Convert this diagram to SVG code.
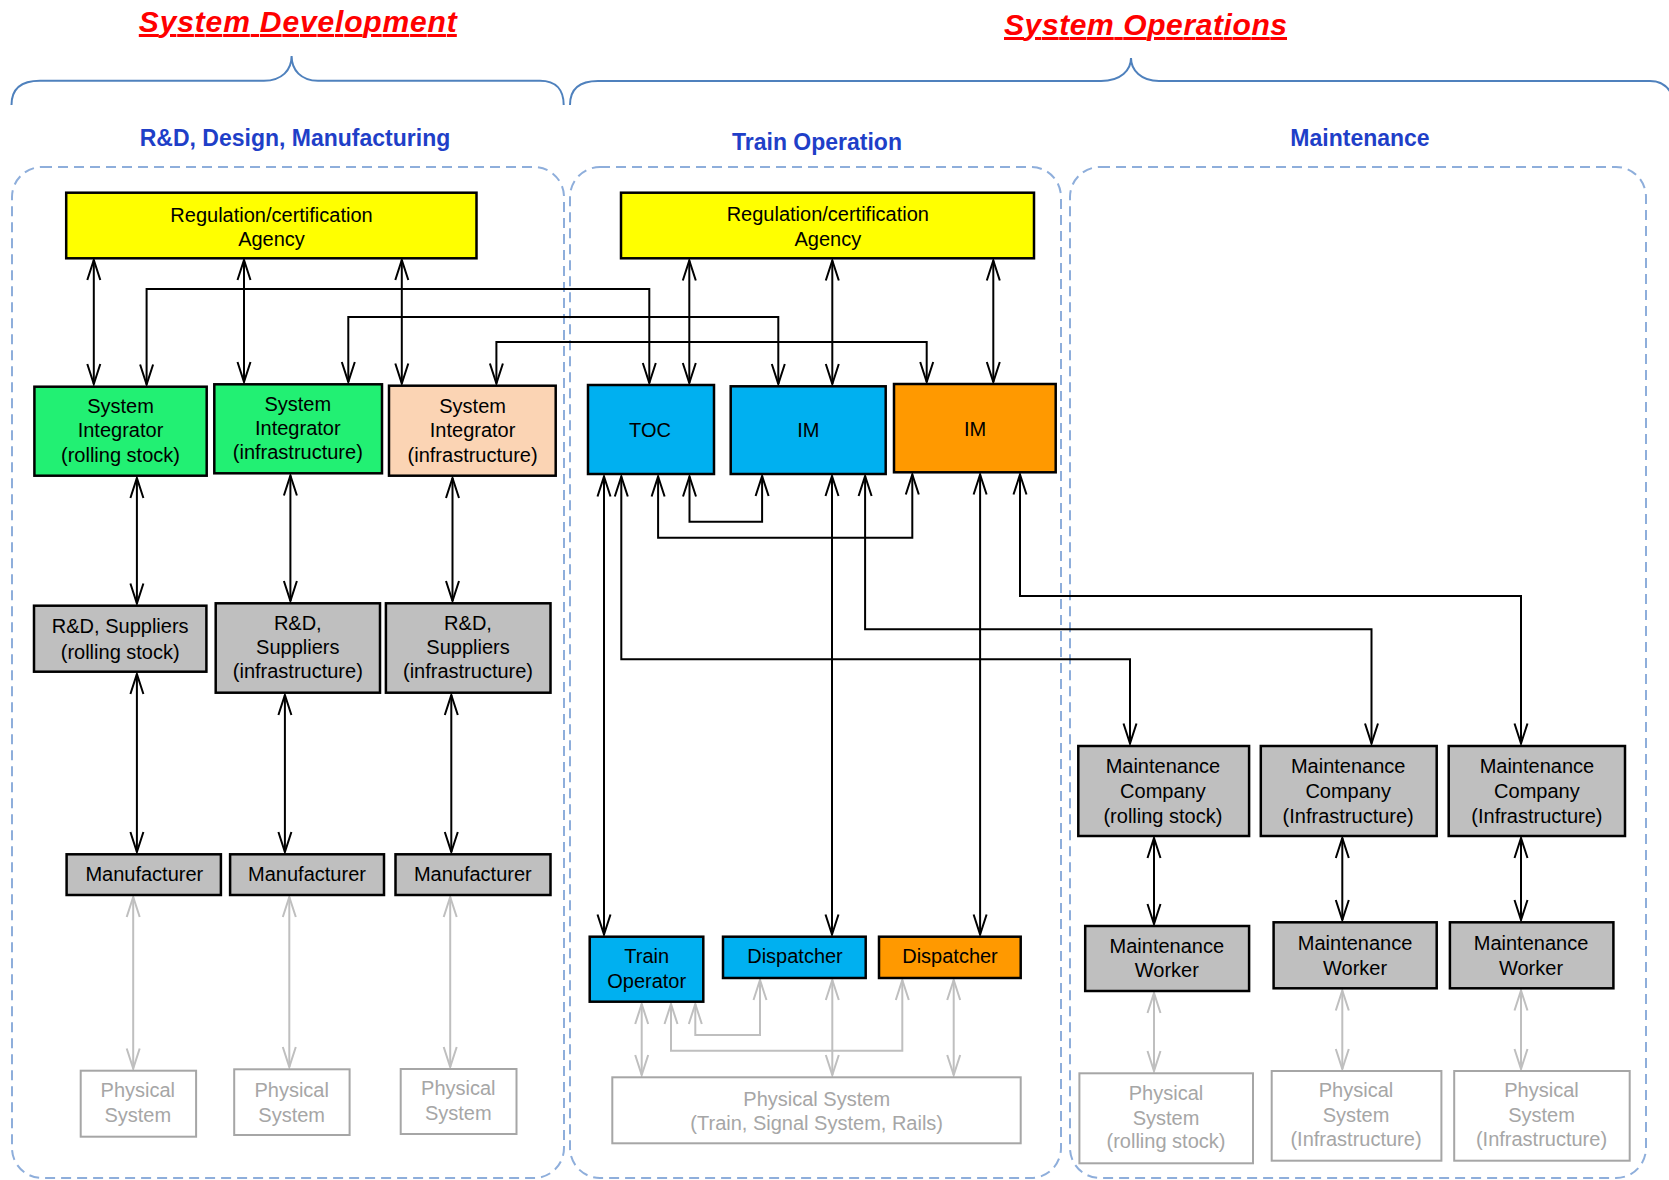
<svg xmlns="http://www.w3.org/2000/svg" width="1669" height="1180" viewBox="0 0 1669 1180">
<style>
text{font-family:"Liberation Sans",Arial,sans-serif}
.t{font-size:20px;fill:#000;text-anchor:middle}
.tg{font-size:20px;fill:#a6a6a6;text-anchor:middle}
.hd{font-size:23px;font-weight:bold;fill:#1f3fc8;text-anchor:middle}
.ti{font-size:30px;font-weight:bold;font-style:italic;fill:#ff0000;text-anchor:middle;text-decoration:underline}
.box{stroke:#000;stroke-width:2.5}
.yel{fill:#ffff00}.grn{fill:#22f073}.pch{fill:#fbd4b4}.blu{fill:#00b0f0}.org{fill:#ff9900}.gry{fill:#bfbfbf}
.phy{fill:#fff;stroke:#a6a6a6;stroke-width:2}
.cont{fill:none;stroke:#8eaedb;stroke-width:2;stroke-dasharray:10 6}
.brace{fill:none;stroke:#4f81bd;stroke-width:2}
.c{fill:none;stroke:#000;stroke-width:2;marker-start:url(#ah);marker-end:url(#ah)}
.c1{fill:none;stroke:#000;stroke-width:2}
.g{fill:none;stroke:#bfbfbf;stroke-width:2;marker-start:url(#ahg);marker-end:url(#ahg)}
</style>
<defs>
<marker id="ah" markerUnits="userSpaceOnUse" markerWidth="30" markerHeight="20" viewBox="-24 -10 30 20" refX="0" refY="0" orient="auto-start-reverse">
<path d="M-20,-6.5 L0,0 L-20,6.5" fill="none" stroke="#000" stroke-width="2"/>
</marker>
<marker id="ahg" markerUnits="userSpaceOnUse" markerWidth="30" markerHeight="20" viewBox="-24 -10 30 20" refX="0" refY="0" orient="auto-start-reverse">
<path d="M-20,-6.5 L0,0 L-20,6.5" fill="none" stroke="#bfbfbf" stroke-width="2"/>
</marker>
</defs>
<rect width="1669" height="1180" fill="#fff"/>

<g id="titles">
<text class="ti" x="297.8" y="32" textLength="318" lengthAdjust="spacing">System Development</text>
<text class="ti" x="1145.5" y="35" textLength="283" lengthAdjust="spacing">System Operations</text>
<path class="brace" d="M11.5,105 C11.5,90 20,80.7 40,80.7 L264,80.7 C282,80.7 291.6,70 291.6,56 C291.6,70 301,80.7 318,80.7 L540,80.7 C556,80.7 563.7,90 563.7,105"/>
<path class="brace" d="M570,105 C570,90 578,81 598,81 L1101,81 C1121,81 1131,70 1131,58 C1131,70 1141,81 1159,81 L1650,81 C1664,81 1672,90 1675,105"/>
<text class="hd" x="295" y="146">R&amp;D, Design, Manufacturing</text>
<text class="hd" x="817" y="150">Train Operation</text>
<text class="hd" x="1360" y="146">Maintenance</text>
</g>

<g id="containers">
<rect class="cont" x="12" y="167" width="552" height="1011" rx="30"/>
<rect class="cont" x="570" y="167" width="491" height="1011" rx="30"/>
<rect class="cont" x="1070" y="167" width="576" height="1011" rx="30"/>
</g>

<g id="connectors">
<path class="c" d="M93.8,260 V384"/>
<path class="c" d="M244,260 V382"/>
<path class="c" d="M401.8,260 V383.5"/>
<path class="c" d="M146.6,384.5 V289 H649.3 V383"/>
<path class="c" d="M348.3,382 V317 H778.3 V384"/>
<path class="c" d="M496.4,383.5 V342 H926.7 V382"/>
<path class="c" d="M136.9,478 V603.5"/>
<path class="c" d="M290.4,475.5 V601"/>
<path class="c" d="M452.5,478 V601"/>
<path class="c" d="M136.9,674 V852"/>
<path class="c" d="M284.9,695 V852"/>
<path class="c" d="M451.3,695 V852"/>
<path class="g" d="M133.2,897 V1068.5"/>
<path class="g" d="M289.3,897 V1067"/>
<path class="g" d="M450.2,897 V1067"/>

<path class="c" d="M689.3,260.5 V383"/>
<path class="c" d="M832.3,260.5 V384"/>
<path class="c" d="M993.3,260.5 V382"/>
<path class="c" d="M604,476.5 V934.5"/>
<path class="c" d="M621.3,476.5 V659.3 H1130 V743.5"/>
<path class="c" d="M658.1,476.5 V537.7 H912.3 V474.5"/>
<path class="c" d="M689.5,476.5 V521.7 H762.1 V476"/>
<path class="c" d="M832,476 V934.5"/>
<path class="c" d="M865.1,476 V629.3 H1371.5 V743.5"/>
<path class="c" d="M980.1,474.5 V934.5"/>
<path class="c" d="M1020,474.5 V596 H1521 V743.5"/>
<path class="g" d="M641.7,1004 V1075"/>
<path class="g" d="M671,1004 V1050.7 H902.3 V980"/>
<path class="g" d="M695.3,1004 V1035 H760 V980"/>
<path class="g" d="M832.3,980 V1075"/>
<path class="g" d="M953.7,980 V1075"/>

<path class="c" d="M1154,838 V924"/>
<path class="c" d="M1342.3,838 V920"/>
<path class="c" d="M1521,838 V920"/>
<path class="g" d="M1154,993 V1071"/>
<path class="g" d="M1342.3,990.5 V1069"/>
<path class="g" d="M1521,990.5 V1069"/>
</g>

<g id="reg1"><rect class="box yel" x="66.2" y="192.7" width="410.3" height="65.6"/><text class="t" x="271.5" y="221.7">Regulation/certification</text><text class="t" x="271.5" y="246">Agency</text></g>
<g id="si1"><rect class="box grn" x="34.4" y="386.7" width="172.3" height="89"/><text class="t" x="120.5" y="413">System</text><text class="t" x="120.5" y="437">Integrator</text><text class="t" x="120.5" y="461.7">(rolling stock)</text></g>
<g id="si2"><rect class="box grn" x="214.3" y="384.3" width="167.7" height="89"/><text class="t" x="297.8" y="411">System</text><text class="t" x="297.8" y="435">Integrator</text><text class="t" x="297.8" y="459">(infrastructure)</text></g>
<g id="si3"><rect class="box pch" x="389" y="385.7" width="166.7" height="90"/><text class="t" x="472.6" y="413">System</text><text class="t" x="472.6" y="437">Integrator</text><text class="t" x="472.6" y="461.7">(infrastructure)</text></g>
<g id="rd1"><rect class="box gry" x="34" y="605.7" width="172.4" height="66"/><text class="t" x="120.2" y="633.3">R&amp;D, Suppliers</text><text class="t" x="120.2" y="659">(rolling stock)</text></g>
<g id="rd2"><rect class="box gry" x="215.7" y="603.3" width="164.3" height="89.4"/><text class="t" x="297.8" y="630">R&amp;D,</text><text class="t" x="297.8" y="654.3">Suppliers</text><text class="t" x="297.8" y="678.3">(infrastructure)</text></g>
<g id="rd3"><rect class="box gry" x="385.9" y="603.3" width="164.6" height="89.4"/><text class="t" x="468" y="630">R&amp;D,</text><text class="t" x="468" y="654.3">Suppliers</text><text class="t" x="468" y="678.3">(infrastructure)</text></g>
<g id="m1"><rect class="box gry" x="66.6" y="854.3" width="154.3" height="40.7"/><text class="t" x="144.3" y="880.7">Manufacturer</text></g>
<g id="m2"><rect class="box gry" x="230.1" y="854.3" width="153.9" height="40.7"/><text class="t" x="307" y="880.7">Manufacturer</text></g>
<g id="m3"><rect class="box gry" x="395.5" y="854.3" width="155" height="40.7"/><text class="t" x="472.8" y="880.7">Manufacturer</text></g>
<g id="ps1"><rect class="phy" x="80.7" y="1070.7" width="115.4" height="66"/><text class="tg" x="137.8" y="1097.3">Physical</text><text class="tg" x="137.8" y="1122.3">System</text></g>
<g id="ps2"><rect class="phy" x="234.2" y="1069.3" width="115.4" height="65.7"/><text class="tg" x="291.7" y="1096.7">Physical</text><text class="tg" x="291.7" y="1121.7">System</text></g>
<g id="ps3"><rect class="phy" x="400.7" y="1069" width="115.8" height="65"/><text class="tg" x="458.3" y="1095">Physical</text><text class="tg" x="458.3" y="1120">System</text></g>

<g id="reg2"><rect class="box yel" x="621" y="192.7" width="413" height="65.6"/><text class="t" x="827.8" y="220.7">Regulation/certification</text><text class="t" x="827.8" y="246">Agency</text></g>
<g id="toc"><rect class="box blu" x="588" y="385" width="126" height="89"/><text class="t" x="650" y="436.7">TOC</text></g>
<g id="imb"><rect class="box blu" x="730.7" y="386.3" width="155" height="87.7"/><text class="t" x="808.3" y="437">IM</text></g>
<g id="imo"><rect class="box org" x="894" y="384" width="161.7" height="88.3"/><text class="t" x="975" y="436">IM</text></g>
<g id="trop"><rect class="box blu" x="589.7" y="936.7" width="113.6" height="65"/><text class="t" x="646.7" y="963.3">Train</text><text class="t" x="646.7" y="988.3">Operator</text></g>
<g id="dispb"><rect class="box blu" x="723" y="936.7" width="142.7" height="41.3"/><text class="t" x="795" y="963.3">Dispatcher</text></g>
<g id="dispo"><rect class="box org" x="879" y="936.7" width="141.7" height="41.3"/><text class="t" x="950" y="963.3">Dispatcher</text></g>
<g id="psm"><rect class="phy" x="612.3" y="1077.3" width="408.4" height="66"/><text class="tg" x="816.7" y="1106">Physical System</text><text class="tg" x="816.7" y="1130">(Train, Signal System, Rails)</text></g>

<g id="mc1"><rect class="box gry" x="1078.3" y="746" width="170.8" height="90"/><text class="t" x="1162.9" y="773.3">Maintenance</text><text class="t" x="1162.9" y="798.3">Company</text><text class="t" x="1162.9" y="822.7">(rolling stock)</text></g>
<g id="mc2"><rect class="box gry" x="1260.8" y="746" width="175.9" height="90"/><text class="t" x="1348.2" y="773.3">Maintenance</text><text class="t" x="1348.2" y="798.3">Company</text><text class="t" x="1348.2" y="822.7">(Infrastructure)</text></g>
<g id="mc3"><rect class="box gry" x="1448.7" y="746" width="176.3" height="90"/><text class="t" x="1536.9" y="773.3">Maintenance</text><text class="t" x="1536.9" y="798.3">Company</text><text class="t" x="1536.9" y="822.7">(Infrastructure)</text></g>
<g id="mw1"><rect class="box gry" x="1085.2" y="926" width="163.9" height="65"/><text class="t" x="1166.8" y="952.7">Maintenance</text><text class="t" x="1166.8" y="976.7">Worker</text></g>
<g id="mw2"><rect class="box gry" x="1273.6" y="922.3" width="163.1" height="66"/><text class="t" x="1355.1" y="950">Maintenance</text><text class="t" x="1355.1" y="975">Worker</text></g>
<g id="mw3"><rect class="box gry" x="1449.9" y="922.3" width="163.5" height="66"/><text class="t" x="1531" y="950">Maintenance</text><text class="t" x="1531" y="975">Worker</text></g>
<g id="psr1"><rect class="phy" x="1079.4" y="1073.3" width="173.6" height="90"/><text class="tg" x="1166" y="1100">Physical</text><text class="tg" x="1166" y="1125">System</text><text class="tg" x="1166" y="1148.3">(rolling stock)</text></g>
<g id="psr2"><rect class="phy" x="1271.7" y="1071" width="169.7" height="89.7"/><text class="tg" x="1356" y="1097.3">Physical</text><text class="tg" x="1356" y="1122.3">System</text><text class="tg" x="1356" y="1146">(Infrastructure)</text></g>
<g id="psr3"><rect class="phy" x="1454.2" y="1071" width="175.5" height="89.7"/><text class="tg" x="1541.5" y="1097.3">Physical</text><text class="tg" x="1541.5" y="1122.3">System</text><text class="tg" x="1541.5" y="1146">(Infrastructure)</text></g>
</svg>
